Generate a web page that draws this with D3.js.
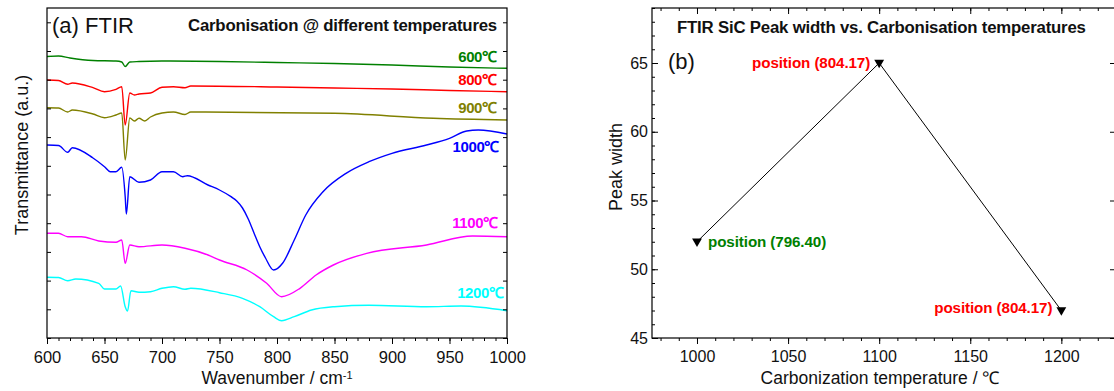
<!DOCTYPE html>
<html>
<head>
<meta charset="utf-8">
<script src="https://cdn.jsdelivr.net/npm/d3@7"></script>
<style>
  html, body { margin: 0; padding: 0; background: #fff; }
  svg { display: block; font-family: "Liberation Sans", Arial, sans-serif; }
  .axis path, .axis line { stroke: #000; }
  .axis text { fill: #111; }
</style>
</head>
<body>
<div id="chart"></div>
<script>
// ---- panel (a): FTIR spectra, transmittance in arbitrary units ----
const wn600 = [600, 610, 620, 640, 660, 665, 668, 672, 680, 700, 750, 800, 850, 900, 950, 1000];
const t600 = [281.5, 282, 280, 277.5, 277, 276, 271.5, 276, 276.5, 277, 276.5, 275.5, 274.5, 273, 271, 269.7];

const wn800 = [600, 610, 618, 622, 640, 650, 660, 665, 668, 672, 676, 680, 690, 700, 710, 720, 725, 800, 850, 900, 950, 1000];
const t800 = [258, 257.5, 253.7, 255, 250.3, 246.3, 248.7, 251.3, 213, 245, 243, 244, 245, 250.7, 251.3, 250.3, 252, 251, 250, 249, 247.5, 246.3];

const wn900 = [600, 610, 618, 622, 640, 650, 660, 665, 668, 672, 676, 680, 685, 690, 700, 710, 720, 725, 850, 936, 1000];
const t900 = [230.3, 230, 226, 228, 224, 220.3, 223, 225, 178, 220, 217, 219.7, 217, 221, 225, 226, 223.5, 226, 224.7, 219.7, 218];

const wn1000 = [600, 610, 618, 622, 640, 650, 655, 660, 665, 668, 669, 672, 680, 690, 700, 710, 718, 722, 740, 750, 760, 765, 770, 775, 780, 785, 790, 797, 805, 815, 825, 840, 860, 880, 900, 930, 950, 965, 975, 1000];
const t1000 = [193, 192.5, 185.7, 190.3, 180, 171.3, 166.3, 166.3, 170.7, 141.3, 124, 161.3, 155.7, 158, 166.3, 166.3, 161.3, 162.3, 153, 148, 141.3, 137, 130, 119, 105, 91.3, 80, 68, 75, 98, 123, 146.3, 164.7, 176.3, 184.7, 193, 199.7, 207, 208, 204];

const wn1100 = [600, 610, 618, 630, 645, 660, 665, 668, 672, 680, 700, 720, 740, 750, 774, 791, 804, 820, 834, 849, 878, 930, 970, 1000];
const t1100 = [104.7, 104.7, 101.3, 101.3, 97, 95.7, 98, 74.7, 93, 91.3, 93, 89.7, 83, 78, 68, 54.7, 41.3, 49.7, 63, 73, 84.7, 93, 102, 101.3];

const wn1200 = [600, 610, 618, 625, 645, 650, 660, 664, 668, 670, 673, 680, 690, 700, 710, 720, 725, 750, 770, 785, 797, 804, 815, 830, 850, 880, 930, 960, 1000];
const t1200 = [60.7, 60.5, 57.3, 59, 54.7, 49, 49, 52, 31.3, 27, 47.3, 45.7, 46.3, 49.7, 51.3, 48.7, 49.7, 45.3, 39.7, 31.3, 21.3, 17.3, 21.3, 28, 31.3, 32.7, 31.3, 32, 27.3];

const seriesNames = ['600℃', '800℃', '900℃', '1000℃', '1100℃', '1200℃'];
const seriesColors = ['#008000', '#ff0000', '#808000', '#0000ff', '#ff00ff', '#00ffff'];
// label anchors (wavenumber, transmittance)
const labelWn = [991, 991, 991, 993, 992, 997];
const labelT = [281, 258, 230, 191, 115, 45];

// ---- panel (b): SiC peak width ----
const carbTemps = [1000, 1100, 1200];
const peakWidths = [52, 65, 47];
const peakPositions = ['position (796.40)', 'position (804.17)', 'position (804.17)'];
const posColors = ['#008000', '#ff0000', '#ff0000'];

const W = 1114, H = 391;
const svg = d3.select('#chart').append('svg').attr('width', W).attr('height', H);
const fmtInt = d3.format('d');

// ================= panel (a) =================
const ax = { left: 47, right: 507, top: 8, bottom: 338 };
const xA = d3.scaleLinear().domain([600, 1000]).range([ax.left, ax.right]);
const yA = d3.scaleLinear().domain([0, 330]).range([ax.bottom, ax.top]);

const gA = svg.append('g');

const seriesData = [
  [wn600, t600], [wn800, t800], [wn900, t900],
  [wn1000, t1000], [wn1100, t1100], [wn1200, t1200],
].map(([w, t]) => w.map((d, i) => [d, t[i]]));

const line = d3.line().x(d => xA(d[0])).y(d => yA(d[1])).curve(d3.curveMonotoneX);

gA.selectAll('path.spec').data(seriesData).join('path')
  .attr('class', 'spec')
  .attr('d', line)
  .attr('fill', 'none')
  .attr('stroke', (d, i) => seriesColors[i])
  .attr('stroke-width', 1.4);

gA.selectAll('text.temp').data(seriesNames).join('text')
  .attr('class', 'temp')
  .attr('x', (d, i) => xA(labelWn[i]))
  .attr('y', (d, i) => yA(labelT[i]))
  .attr('dy', '0.35em')
  .attr('text-anchor', 'end')
  .attr('font-size', 15).attr('font-weight', 'bold')
  .attr('letter-spacing', -0.4)
  .attr('fill', (d, i) => seriesColors[i])
  .text(d => d);

// frame
gA.append('rect')
  .attr('x', ax.left).attr('y', ax.top)
  .attr('width', ax.right - ax.left).attr('height', ax.bottom - ax.top)
  .attr('fill', 'none').attr('stroke', '#000').attr('stroke-width', 1.2);

// bottom axis: minor + major
gA.append('g').attr('class', 'axis')
  .attr('transform', `translate(0,${ax.bottom})`)
  .call(d3.axisBottom(xA).tickValues(d3.range(600, 1001, 10)).tickSize(3).tickFormat(''))
  .call(g => g.select('.domain').remove());
gA.append('g').attr('class', 'axis')
  .attr('transform', `translate(0,${ax.bottom})`)
  .call(d3.axisBottom(xA).tickValues(d3.range(600, 1001, 50)).tickSize(6).tickPadding(7).tickFormat(fmtInt))
  .call(g => g.select('.domain').remove())
  .call(g => g.selectAll('text').attr('font-size', 16.5));

const yTicksA = d3.range(0, 330, 28.7);
gA.append('g').attr('class', 'axis')
  .attr('transform', `translate(${ax.left},0)`)
  .call(d3.axisLeft(yA).tickValues(yTicksA).tickSize(-4).tickFormat(''))
  .call(g => g.select('.domain').remove());
gA.append('g').attr('class', 'axis')
  .attr('transform', `translate(${ax.right},0)`)
  .call(d3.axisRight(yA).tickValues(yTicksA).tickSize(-4).tickFormat(''))
  .call(g => g.select('.domain').remove());

gA.append('text')
  .attr('x', 52).attr('y', 25).attr('dy', '0.35em')
  .attr('font-size', 22).attr('fill', '#111')
  .text('(a) FTIR');

gA.append('text')
  .attr('x', 497).attr('y', 25).attr('dy', '0.35em')
  .attr('text-anchor', 'end')
  .attr('font-size', 16.8).attr('font-weight', 'bold').attr('fill', '#111')
  .attr('letter-spacing', -0.2)
  .text('Carbonisation @ different temperatures');

gA.append('text')
  .attr('transform', `translate(22,${155}) rotate(-90)`)
  .attr('text-anchor', 'middle').attr('dy', '0.35em')
  .attr('font-size', 18).attr('fill', '#111')
  .text('Transmittance (a.u.)');

const xlabA = gA.append('text')
  .attr('x', (ax.left + ax.right) / 2).attr('y', 378).attr('dy', '0.35em')
  .attr('text-anchor', 'middle')
  .attr('font-size', 17.5).attr('fill', '#111');
xlabA.append('tspan').text('Wavenumber / cm');
xlabA.append('tspan').attr('dy', '-0.5em').attr('font-size', 11).text('-1');

// ================= panel (b) =================
const bx = { left: 652, right: 1116, top: 8, bottom: 338 };
const xB = d3.scaleLinear().domain([975.3, 1230]).range([bx.left, bx.right]);
const yB = d3.scaleLinear().domain([45, 69]).range([bx.bottom, bx.top]);

const gB = svg.append('g');

gB.append('rect')
  .attr('x', bx.left).attr('y', bx.top)
  .attr('width', bx.right - bx.left).attr('height', bx.bottom - bx.top)
  .attr('fill', 'none').attr('stroke', '#000').attr('stroke-width', 1.2);

// bottom (outward) and top (inward) ticks
gB.append('g').attr('class', 'axis')
  .attr('transform', `translate(0,${bx.bottom})`)
  .call(d3.axisBottom(xB).tickValues(d3.range(980, 1231, 10)).tickSize(3).tickFormat(''))
  .call(g => g.select('.domain').remove());
gB.append('g').attr('class', 'axis')
  .attr('transform', `translate(0,${bx.bottom})`)
  .call(d3.axisBottom(xB).tickValues(d3.range(1000, 1201, 50)).tickSize(6).tickPadding(7).tickFormat(fmtInt))
  .call(g => g.select('.domain').remove())
  .call(g => g.selectAll('text').attr('font-size', 16));
gB.append('g').attr('class', 'axis')
  .attr('transform', `translate(0,${bx.top})`)
  .call(d3.axisTop(xB).tickValues(d3.range(980, 1231, 10)).tickSize(-3).tickFormat(''))
  .call(g => g.select('.domain').remove());
gB.append('g').attr('class', 'axis')
  .attr('transform', `translate(0,${bx.top})`)
  .call(d3.axisTop(xB).tickValues(d3.range(1000, 1201, 50)).tickSize(-6).tickFormat(''))
  .call(g => g.select('.domain').remove());

// left ticks (inward) with labels, right ticks (inward)
gB.append('g').attr('class', 'axis')
  .attr('transform', `translate(${bx.left},0)`)
  .call(d3.axisLeft(yB).tickValues(d3.range(45, 70, 1)).tickSize(-3).tickFormat(''))
  .call(g => g.select('.domain').remove());
gB.append('g').attr('class', 'axis')
  .attr('transform', `translate(${bx.left},0)`)
  .call(d3.axisLeft(yB).tickValues(d3.range(45, 66, 5)).tickSize(-6).tickPadding(4))
  .call(g => g.select('.domain').remove())
  .call(g => g.selectAll('text').attr('font-size', 16));
gB.append('g').attr('class', 'axis')
  .attr('transform', `translate(${bx.right},0)`)
  .call(d3.axisRight(yB).tickValues(d3.range(45, 66, 5)).tickSize(-6).tickFormat(''))
  .call(g => g.select('.domain').remove())
  .call(g => g.selectAll('line').attr('stroke', '#bbb'));

const pts = carbTemps.map((t, i) => ({ t, w: peakWidths[i], label: peakPositions[i], color: posColors[i] }));

gB.append('path')
  .datum(pts)
  .attr('d', d3.line().x(d => xB(d.t)).y(d => yB(d.w)))
  .attr('fill', 'none').attr('stroke', '#000').attr('stroke-width', 1);

gB.selectAll('path.pt').data(pts).join('path')
  .attr('class', 'pt')
  .attr('d', d3.symbol(d3.symbolTriangle, 42))
  .attr('transform', d => `translate(${xB(d.t)},${yB(d.w) - 0.5}) rotate(180)`)
  .attr('fill', '#000');

gB.selectAll('text.pos').data(pts).join('text')
  .attr('class', 'pos')
  .attr('x', (d, i) => xB(d.t) + (i === 0 ? 11 : -9))
  .attr('y', (d, i) => yB(d.w) + (i === 2 ? -2.5 : -0.5))
  .attr('dy', '0.35em')
  .attr('text-anchor', (d, i) => i === 0 ? 'start' : 'end')
  .attr('font-size', 15.2).attr('font-weight', 'bold')
  .attr('letter-spacing', -0.1)
  .attr('fill', d => d.color)
  .text(d => d.label);

gB.append('text')
  .attr('x', 668).attr('y', 61).attr('dy', '0.35em')
  .attr('font-size', 22).attr('fill', '#111')
  .text('(b)');

gB.append('text')
  .attr('x', 677).attr('y', 27).attr('dy', '0.35em')
  .attr('font-size', 16.8).attr('font-weight', 'bold').attr('fill', '#111')
  .attr('letter-spacing', -0.2)
  .text('FTIR SiC Peak width vs. Carbonisation temperatures');

gB.append('text')
  .attr('transform', `translate(616,167) rotate(-90)`)
  .attr('text-anchor', 'middle').attr('dy', '0.35em')
  .attr('font-size', 18).attr('fill', '#111')
  .text('Peak width');

gB.append('text')
  .attr('x', 880).attr('y', 378).attr('dy', '0.35em')
  .attr('text-anchor', 'middle')
  .attr('font-size', 17.5).attr('fill', '#111')
  .text('Carbonization temperature / ℃');
</script>
</body>
</html>
